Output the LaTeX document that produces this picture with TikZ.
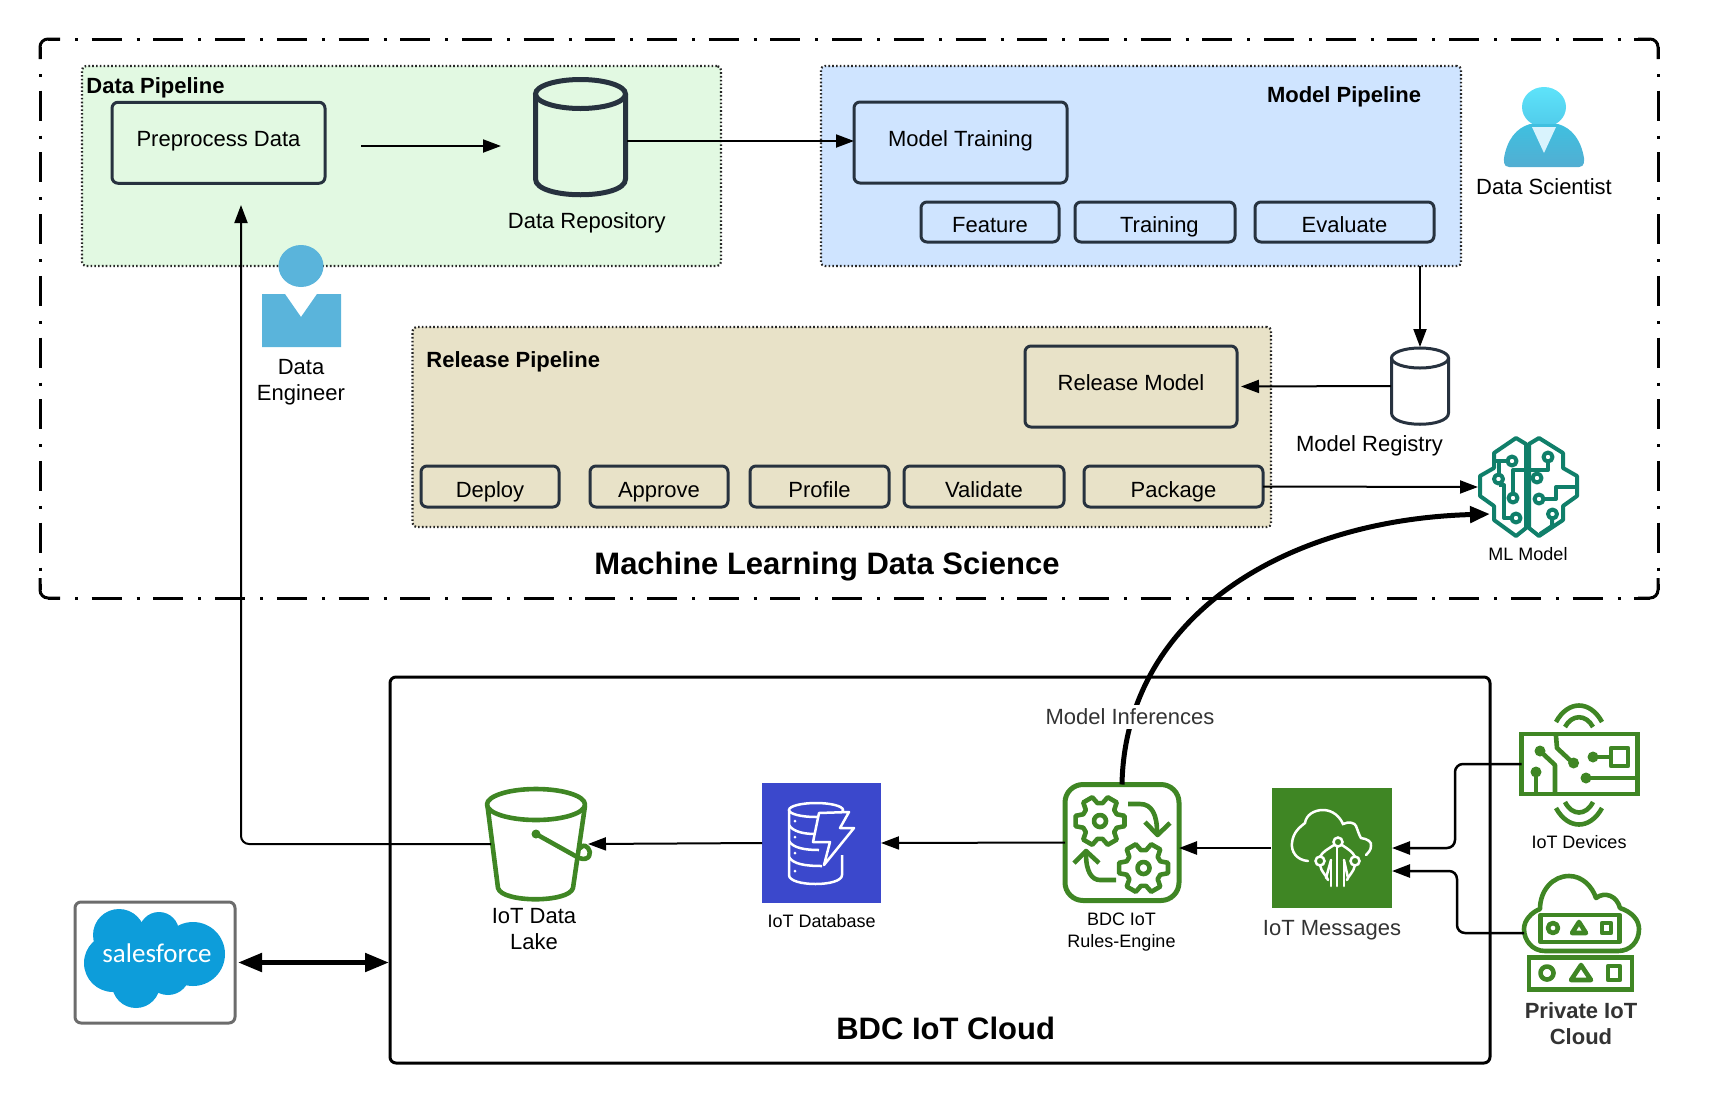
\documentclass[tikz,border=0pt]{standalone}
\usepackage{fontspec}
\setmainfont{Liberation Sans}
\newfontfamily\logofont{Carlito}
\usetikzlibrary{arrows.meta}
\definecolor{datagreen}{HTML}{E2F9E2}
\definecolor{modelblue}{HTML}{CFE4FF}
\definecolor{releasetan}{HTML}{E8E2C8}
\definecolor{boxline}{HTML}{27323F}
\definecolor{iotgreen}{HTML}{3F8624}
\definecolor{dbblue}{HTML}{3B48CC}
\definecolor{brainteal}{HTML}{107F6A}
\definecolor{engineerblue}{HTML}{5AB4DB}
\definecolor{sfblue}{HTML}{0D9DDA}
\definecolor{greytext}{HTML}{333333}
\definecolor{headtop}{HTML}{5EE3FA}
\definecolor{headbottom}{HTML}{50CBEA}
\definecolor{bodytop}{HTML}{3FC0E0}
\definecolor{bodybottom}{HTML}{52AED2}

\begin{document}
\begin{tikzpicture}[x=0.5pt,y=-0.5pt,font=\fontsize{11}{13}\selectfont]
    \tikzstyle{arrow} = [line width=1pt,->,>={Stealth[inset=0pt,length=9pt,width=6.5pt]}]
    \tikzstyle{thickarrow} = [line width=2.5pt,->,>={Stealth[inset=0pt,length=10pt,width=8pt]}]
    \tikzstyle{framedash} = [line width=1.5pt, dash pattern=on 15pt off 7.5pt on 1.5pt off 6.85pt, dash phase=9pt, shorten <=4pt, shorten >=4pt]
    \tikzstyle{framecorner} = [line width=1.5pt, rounded corners=4pt]
    \tikzstyle{pipeline} = [draw=black!85, line width=1.1pt, dash pattern=on 0.8pt off 1.1pt, rounded corners=2pt, outer sep=0pt]
    \tikzstyle{bigbox} = [draw=boxline, line width=1.5pt, rounded corners=3pt, minimum width=106.5pt, minimum height=40.5pt, outer sep=0pt, inner sep=0pt, text height=8pt, text depth=4pt]
    \tikzstyle{smallbox} = [draw=boxline, line width=1.5pt, rounded corners=3pt, minimum height=20pt, outer sep=0pt, inner sep=0pt, text height=11pt, text depth=0.5pt]
    \tikzstyle{iconspot} = [minimum width=50pt, minimum height=50pt, outer sep=0pt, inner sep=0pt]
    \tikzstyle{greenicon} = [draw=iotgreen, line width=2.3pt, line join=round]
    \tikzstyle{bold} = [font=\fontsize{11}{13}\selectfont\bfseries]
    \tikzstyle{title} = [font=\fontsize{15.5}{18}\selectfont\bfseries]
    \tikzstyle{small} = [font=\fontsize{9}{11}\selectfont, align=center]
    \useasboundingbox (0,0) rectangle (1709,1104);

    % Outer frame, machine learning side
    \node [minimum width=809pt, minimum height=279.5pt, outer sep=0pt, inner sep=0pt] (MLFrame) at (849,318.5) {};
    \draw [framedash] (MLFrame.north west) -- (MLFrame.north east);
    \draw [framedash] (MLFrame.south west) -- (MLFrame.south east);
    \draw [framedash] (MLFrame.north west) -- (MLFrame.south west);
    \draw [framedash] (MLFrame.north east) -- (MLFrame.south east);
    \draw [framecorner] (MLFrame.north west) ++(0,20) -- ++(0,-20) -- ++(20,0);
    \draw [framecorner] (MLFrame.north east) ++(0,20) -- ++(0,-20) -- ++(-20,0);
    \draw [framecorner] (MLFrame.south west) ++(0,-20) -- ++(0,20) -- ++(20,0);
    \draw [framecorner] (MLFrame.south east) ++(0,-20) -- ++(0,20) -- ++(-20,0);
    \node [title] (MLLabel) at (827,567) {Machine Learning Data Science};

    % Data pipeline
    \node [pipeline, fill=datagreen, minimum width=319.5pt, minimum height=100pt] (DataPipeline) at (401.5,166) {};
    \node [bold, anchor=west, inner sep=0pt] (DataLabel) at (86,88) {Data Pipeline};
    \node [bigbox] (Preprocess) at (218.5,142.75) {Preprocess Data};
    \node [minimum width=45.5pt, minimum height=58.5pt, outer sep=0pt, inner sep=0pt] (DataRepository) at (580.5,137.5) {};
    \draw [draw=boxline, line width=2.5pt] (580.5,94) ellipse [x radius=45, y radius=14.5];
    \draw [draw=boxline, line width=2.5pt] (535.5,94) -- (535.5,179) .. controls (535.5,200) and (625.5,200) .. (625.5,179) -- (625.5,94);
    \node (RepositoryLabel) at (586.8,223) {Data Repository};
    \coordinate (PreprocessOut) at (361,146);
    \coordinate (RepositoryIn) at (501,146);
    \draw [arrow] (PreprocessOut) -- (RepositoryIn);

    % Model pipeline
    \node [pipeline, fill=modelblue, minimum width=320pt, minimum height=100pt] (ModelPipeline) at (1141,166) {};
    \node [bold] (ModelLabel) at (1344,97) {Model Pipeline};
    \node [bigbox] (ModelTraining) at (960.5,142.5) {Model Training};
    \node [smallbox, minimum width=69pt] (Feature) at (990,222) {Feature};
    \node [smallbox, minimum width=80pt] (Training) at (1155,222) {\hspace*{4.4pt}Training};
    \node [smallbox, minimum width=89.5pt] (Evaluate) at (1344.5,222) {Evaluate};
    \coordinate (RepositoryOut) at (627,141);
    \draw [arrow] (RepositoryOut) -- (RepositoryOut -| ModelTraining.west);

    % Release pipeline
    \node [pipeline, fill=releasetan, minimum width=429.25pt, minimum height=100pt] (ReleasePipeline) at (841.75,427) {};
    \node [bold, anchor=west, inner sep=0pt] (ReleaseLabel) at (426,362) {Release Pipeline};
    \node [bigbox, minimum width=106pt] (ReleaseModel) at (1131,386.5) {Release Model};
    \node [smallbox, minimum width=69pt, minimum height=20.5pt] (Deploy) at (490,486.5) {Deploy};
    \node [smallbox, minimum width=69pt, minimum height=20.5pt] (Approve) at (659,486.5) {Approve};
    \node [smallbox, minimum width=69.5pt, minimum height=20.5pt] (Profile) at (819.5,486.5) {Profile};
    \node [smallbox, minimum width=80pt, minimum height=20.5pt] (Validate) at (984,486.5) {Validate};
    \node [smallbox, minimum width=89.5pt, minimum height=20.5pt] (Package) at (1173.5,486.5) {Package};

    % Model registry
    \node [minimum width=29pt, minimum height=39pt, outer sep=0pt, inner sep=0pt] (ModelRegistry) at (1420,386) {};
    \draw [draw=boxline, line width=1.5pt] (1420,358) ellipse [x radius=28.5, y radius=10];
    \draw [draw=boxline, line width=1.5pt] (1391.5,358) -- (1391.5,413) .. controls (1391.5,428) and (1448.5,428) .. (1448.5,413) -- (1448.5,358);
    \node (RegistryLabel) at (1369.5,446) {Model Registry};
    \draw [arrow] (ModelRegistry |- ModelPipeline.south) -- (ModelRegistry.north);
    \draw [arrow, shorten >=2pt] (ModelRegistry.west) -- (ReleaseModel.east);

    % Data engineer
    \fill [engineerblue] (301,266) ellipse [x radius=22.5, y radius=21];
    \fill [engineerblue] (262,294) -- (285,294) -- (301,317) -- (317,294) -- (341,294) -- (341,347) -- (262,347) -- cycle;
    \node [align=center] (EngineerLabel) at (301,382) {Data\\Engineer};

    % Data scientist
    \shade [top color=headtop, bottom color=headbottom] (1544,107) ellipse [x radius=22, y radius=20];
    \shade [top color=bodytop, bottom color=bodybottom] (1509,167) .. controls (1503,167) and (1504,160) .. (1504,158) .. controls (1507,140) and (1516,128) .. (1530,124) -- (1558,124) .. controls (1572,128) and (1581,140) .. (1584,158) .. controls (1584,160) and (1585,167) .. (1579,167) -- cycle;
    \fill [cyan!15!white] (1532,127) -- (1556,127) -- (1544,153) -- cycle;
    \node (ScientistLabel) at (1544,187) {Data Scientist};

    % ML model, left half of the brain
    \node [iconspot] (MLModel) at (1528,487) {};
    \node [small] (MLCaption) at (1528,554) {ML Model};
    \coordinate (MLIn) at (1490,514);
    \begin{scope}[draw=brainteal, line width=2pt, line join=round]
      \draw (1516,438) -- (1526,444) -- (1526,528) -- (1516,536) -- (1494,520) -- (1494,506) -- (1480,496) -- (1480,476) -- (1494,468) -- (1494,453) -- cycle;
      % right half
      \draw (1539,438) -- (1529,444) -- (1529,528) -- (1539,536) -- (1563,520) -- (1563,506) -- (1577,496) -- (1577,476) -- (1563,468) -- (1563,453) -- cycle;
      % traces
      \draw (1495,461) -- (1508,461);
      \draw (1498.5,475) -- (1498.5,461);
      \draw (1513,494) -- (1513,470) -- (1526,470);
      \draw (1512,518) -- (1504,518) -- (1504,485) -- (1498.5,485);
      \draw (1548,461) -- (1548,470) -- (1529,470);
      \draw (1537,474) -- (1537,470);
      \draw (1545,499) -- (1556,499) -- (1556,487) -- (1577,487);
      \draw (1552,518) -- (1552,526) -- (1540,534);
      \foreach \rx/\ry in {1512/461,1498.5/479,1513/498,1516/518,1548/457,1537/478,1539/499,1552.5/514}
        \draw [fill=white] (\rx,\ry) circle [radius=4.5];
    \end{scope}

    % IoT cloud frame
    \node [draw, line width=1.5pt, rounded corners=3pt, minimum width=550pt, minimum height=193pt, outer sep=0pt] (BDCCloud) at (940,870) {};
    \node [title] (BDCLabel) at (945.6,1028) {BDC IoT Cloud};

    % Salesforce
    \node [draw=gray!85!black, line width=1.5pt, rounded corners=3pt, minimum width=80pt, minimum height=60.5pt, outer sep=0pt] (Salesforce) at (155,962.5) {};
    \fill [sfblue] (119,935) circle [radius=26] (159,932) circle [radius=20] (193,954) circle [radius=32] (113,963) circle [radius=29] (136,984) circle [radius=24] (168,973) circle [radius=22] (155,955) circle [radius=35];
    \node [white, font=\logofont\fontsize{13.5}{15}\selectfont] (SalesforceLabel) at (157,953) {salesforce};
    \draw [thickarrow, <->, >={Stealth[inset=0pt,length=12pt,width=9pt]}, shorten <=1.5pt, shorten >=0.5pt] (Salesforce) ++(80,0) -- (Salesforce -| BDCCloud.west);

    % IoT data lake
    \node [iconspot, minimum width=52pt] (IoTLake) at (536,844) {};
    \draw [greenicon] (536,804.5) ellipse [x radius=49, y radius=15.5];
    \draw [greenicon] (487.5,806) -- (498,888) .. controls (502,903) and (569,903) .. (573,888) -- (585,806);
    \draw [greenicon] (536,834) -- (579,858) .. controls (590,862) and (592,852) .. (588,848) .. controls (584,844) and (582,846) .. (580,848);
    \fill [iotgreen] (536,834) circle [radius=4.5];
    \node [align=center] (LakeLabel) at (534,929) {IoT Data\\Lake};
    \coordinate (LakeOut) at (491,844);
    \coordinate (PreprocessIn) at (241,205);
    \draw [arrow, rounded corners=4pt] (LakeOut) -| (PreprocessIn);

    % IoT database
    \node [fill=dbblue, minimum width=59.5pt, minimum height=60pt, outer sep=0pt] (IoTDatabase) at (821.5,843) {};
    \node [small] (DatabaseLabel) at (821.7,920.6) {IoT Database};
    \begin{scope}[draw=white, line width=1.25pt]
      \draw (816,810) ellipse [x radius=27, y radius=7];
      \draw (789,810) -- (789,875) .. controls (789,887) and (842,887) .. (842,875) -- (842,855);
      \draw (789,825) .. controls (793,832) and (805,834) .. (815,834);
      \draw (789,841) .. controls (793,848) and (805,850) .. (819,850);
      \draw (789,857) .. controls (793,864) and (805,866) .. (822,866);
      \draw [fill=dbblue, line join=round] (819,813) -- (849,812) -- (840,828) -- (854,828) -- (824,865) -- (830,842) -- (813,842) -- cycle;
    \end{scope}
    \fill [white] (795,821) circle [radius=1.5] (795,837) circle [radius=1.5] (795,853) circle [radius=1.5] (795,871) circle [radius=1.5];
    \draw [arrow] (IoTDatabase.west) -- (IoTLake.east);

    % Rules engine
    \node [draw=iotgreen, line width=2.5pt, rounded corners=9pt, minimum width=57pt, minimum height=58pt, outer sep=0pt] (RulesEngine) at (1122,842.5) {};
    \node [small, text depth=0pt] (RulesCaption) at (1121.5,930.7) {BDC IoT\\Rules-Engine};
    \foreach \gx/\gy in {1100/821,1143.5/868} {
      \begin{scope}[shift={(\gx,\gy)}]
        \draw [greenicon] (-12:25) \foreach \a in {0,60,...,300} { -- (\a-12:25) -- (\a+12:25) -- (\a+22:18) -- (\a+38:18)} -- cycle;
        \draw [greenicon] (0,0) circle [radius=6];
      \end{scope}
    }
    \draw [greenicon] (1128,804) -- (1140,804) .. controls (1152,804) and (1157,815) .. (1157,832);
    \draw [greenicon] (1145,822) -- (1157.5,835) -- (1170,823);
    \draw [greenicon] (1116,880) -- (1100,880) .. controls (1092,880) and (1086,872) .. (1086,854);
    \draw [greenicon] (1074,863) -- (1086,851) -- (1099,863);
    \draw [arrow] (RulesEngine.west) -- (IoTDatabase.east);

    % IoT messages
    \node [fill=iotgreen, minimum width=60pt, minimum height=60pt, outer sep=0pt] (IoTMessages) at (1332,848) {};
    \node (MessagesLabel) [text=greytext] at (1332,930) {IoT Messages};
    \begin{scope}[draw=white, line width=1.25pt, line cap=round]
      \draw (1308,861) .. controls (1296,860) and (1291,851) .. (1292,843) .. controls (1293,832) and (1300,827) .. (1305,823) .. controls (1306,815) and (1314,810) .. (1323,810) .. controls (1333,810) and (1340,817) .. (1343,824) .. controls (1349,821) and (1355,823) .. (1356,826) .. controls (1358,831) and (1359,835) .. (1361,838) .. controls (1368,839) and (1372,842) .. (1371,846) .. controls (1371,850) and (1368,853) .. (1366,855);
      \draw (1334,845) .. controls (1328,849) and (1322,852) .. (1320,857);
      \draw (1342,845) .. controls (1348,849) and (1353,852) .. (1355,857);
      \draw (1320,865) .. controls (1321,872) and (1327,876) .. (1328,880);
      \draw (1355,865) .. controls (1354,872) and (1348,876) .. (1347,880);
      \draw (1331,886) -- (1331,860);
      \draw (1337,886) -- (1337,846);
      \draw (1344,886) -- (1344,860);
      \draw (1326,878) -- (1331,860);
      \draw (1348,878) -- (1344,860);
      \draw [fill=iotgreen] (1338,842) circle [radius=4.5] (1320,861) circle [radius=4.5] (1355,861) circle [radius=4.5];
    \end{scope}
    \draw [arrow, line width=1.25pt] (IoTMessages.west) ++(-1,0) -- (RulesEngine.east |- IoTMessages.west);

    % IoT devices
    \node [draw=iotgreen, line width=2.25pt, minimum width=58pt, minimum height=30pt, outer sep=0pt] (IoTDevices) at (1579.5,764) {};
    \node [small] (DevicesCaption) at (1579,842) {IoT Devices};
    \draw [greenicon] (1556,722) .. controls (1568,700) and (1590,700) .. (1602,722);
    \draw [greenicon] (1565,727) .. controls (1572,714) and (1586,714) .. (1593,727);
    \draw [greenicon] (1556,808) .. controls (1568,830) and (1590,830) .. (1602,808);
    \draw [greenicon] (1565,802) .. controls (1572,816) and (1586,816) .. (1593,802);
    \draw [greenicon] (1540,751) -- (1555,765) -- (1555,792);
    \draw [greenicon] (1556,736) -- (1557,748) -- (1573,763);
    \draw [greenicon] (1536,772) -- (1536,792);
    \draw [greenicon] (1593,757) -- (1611,757);
    \draw [greenicon] (1611,748) rectangle (1628,766);
    \draw [greenicon] (1586,778) -- (1636,778);
    \fill [iotgreen] (1540,751) circle [radius=5.5] (1573.6,763) circle [radius=5.5] (1536,772) circle [radius=5.5] (1593,757) circle [radius=5.5] (1586,778) circle [radius=5.5];
    \coordinate (DevicesBend) at (1455,848);
    \draw [arrow, rounded corners=4pt, line width=1.25pt] (IoTDevices.west) -| (DevicesBend) -- (IoTMessages.east);

    % Private IoT cloud
    \coordinate (PrivateOut) at (1524,933);
    \coordinate (PrivateBend) at (1457,871);
    \draw [greenicon] (1545,951) .. controls (1532,951) and (1524,940) .. (1524,929) .. controls (1524,920) and (1532,912) .. (1540,909) .. controls (1540,890) and (1553,876) .. (1569,876) .. controls (1582,876) and (1592,886) .. (1596,898) .. controls (1605,891) and (1617,896) .. (1620,908) .. controls (1632,912) and (1639,920) .. (1639,929) .. controls (1639,942) and (1630,951) .. (1618,951) -- cycle;
    \draw [greenicon] (1540.7,915) rectangle (1619.7,942);
    \draw [greenicon] (1553,928) circle [radius=5];
    \draw [greenicon] (1572,933) -- (1579,922) -- (1586,933) -- cycle;
    \draw [greenicon] (1602,923) rectangle (1611,933);
    \node [draw=iotgreen, line width=2.25pt, minimum width=51.5pt, minimum height=16pt, outer sep=0pt] (PrivateCloud) at (1580.5,973.5) {};
    \draw [greenicon] (1547,973) circle [radius=6.5];
    \draw [greenicon] (1571,980) -- (1581,965) -- (1591,980) -- cycle;
    \draw [greenicon] (1608,966) rectangle (1620,980);
    \node [align=center, text=greytext, font=\fontsize{11}{13}\selectfont\bfseries] (PrivateCaption) at (1581,1024) {Private IoT\\Cloud};
    \draw [arrow, rounded corners=4pt, line width=1.25pt] (PrivateOut) -| (PrivateBend) -- (PrivateBend -| IoTMessages.east);

    % Model inferences curve
    \draw [thickarrow] (RulesEngine.north) .. controls (1125,620) and (1280,520) .. (MLIn);
    \node [fill=white, inner sep=2pt, text=greytext] (InferencesLabel) at (1130,717) {Model Inferences};

    % Package to ML model
    \draw [arrow] (Package.east) -- (MLModel.west);
\end{tikzpicture}
\end{document}
